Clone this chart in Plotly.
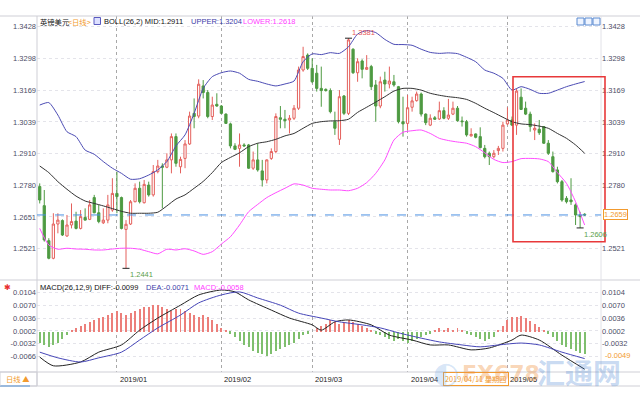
import plotly.graph_objects as go
import pandas as pd

# ---------------- data ----------------
dates = pd.bdate_range("2018-12-07", periods=121).strftime("%Y-%m-%d").tolist()

opens = [1.2775,1.2697,1.2554,1.2482,1.2622,1.2636,1.2573,1.2618,1.2634,1.2604,
1.2649,1.2641,1.2730,1.2668,1.2627,1.2638,1.2679,1.2747,1.2730,1.2600,
1.2622,1.2713,1.2768,1.2709,1.2781,1.2741,1.2836,1.2859,1.2854,1.2884,
1.2979,1.2856,1.2890,1.2949,1.3074,1.3063,1.3186,1.3159,1.3061,1.3111,
1.3104,1.3071,1.3031,1.2941,1.2931,1.2945,1.2945,1.2850,1.2884,1.2839,
1.2802,1.2890,1.2918,1.3056,1.3050,1.3047,1.3054,1.3095,1.3251,1.3312,
1.3258,1.3238,1.3176,1.3172,1.3167,1.3040,1.2968,1.3145,1.3074,1.3336,
1.3240,1.3288,1.3254,1.3265,1.3190,1.3104,1.3210,1.3194,1.3203,1.3183,
1.3040,1.3033,1.3099,1.3126,1.3153,1.3071,1.3026,1.3056,1.3051,1.3085,
1.3054,1.3071,1.3095,1.3043,1.3040,1.2982,1.2990,1.2979,1.2931,1.2911,
1.2897,1.2922,1.2931,1.3031,1.3047,1.3026,1.3140,1.3095,1.3071,1.3006,
1.3009,1.3020,1.2952,1.2897,1.2843,1.2795,1.2727,1.2720,1.2700,1.2659,
1.2662]
highs = [1.2788,1.2761,1.2564,1.2666,1.2666,1.2641,1.2659,1.2706,1.2672,1.2679,
1.2686,1.2720,1.2741,1.2700,1.2686,1.2741,1.2809,1.2836,1.2734,1.2638,
1.2720,1.2788,1.2795,1.2802,1.2795,1.2863,1.2884,1.2870,1.2911,1.2992,
1.2992,1.2897,1.2965,1.3081,1.3135,1.3213,1.3210,1.3169,1.3142,1.3156,
1.3108,1.3074,1.3036,1.2952,1.2992,1.2952,1.2949,1.2918,1.2952,1.2884,
1.2886,1.2931,1.3074,1.3104,1.3088,1.3067,1.3108,1.3265,1.3346,1.3319,
1.3299,1.3272,1.3265,1.3176,1.3176,1.3081,1.3169,1.3149,1.3381,1.3340,
1.3299,1.3295,1.3312,1.3272,1.3210,1.3224,1.3244,1.3265,1.3231,1.3186,
1.3142,1.3149,1.3142,1.3163,1.3159,1.3074,1.3070,1.3063,1.3122,1.3099,
1.3133,1.3122,1.3104,1.3061,1.3047,1.3013,1.2992,1.3017,1.2945,1.2918,
1.2924,1.2941,1.3040,1.3099,1.3061,1.3176,1.3176,1.3122,1.3081,1.3033,
1.3047,1.3022,1.2965,1.2918,1.2856,1.2802,1.2736,1.2809,1.2706,1.2672,
1.2666]
lows = [1.2706,1.2550,1.2478,1.2478,1.2584,1.2573,1.2570,1.2604,1.2600,1.2600,
1.2636,1.2638,1.2666,1.2625,1.2622,1.2625,1.2672,1.2666,1.2600,1.2441,
1.2618,1.2711,1.2706,1.2706,1.2734,1.2734,1.2829,1.2686,1.2850,1.2829,
1.2856,1.2829,1.2850,1.2945,1.3013,1.3054,1.3135,1.3054,1.3047,1.3101,
1.3071,1.3031,1.2931,1.2924,1.2856,1.2938,1.2847,1.2843,1.2836,1.2775,
1.2788,1.2884,1.2911,1.3013,1.3013,1.2992,1.3047,1.3088,1.3244,1.3251,
1.3197,1.3163,1.3101,1.3163,1.3074,1.2986,1.2945,1.3067,1.3067,1.3235,
1.3203,1.3217,1.3251,1.3169,1.3040,1.3095,1.3163,1.3176,1.3183,1.3033,
1.2979,1.3006,1.3081,1.3122,1.3061,1.3026,1.3022,1.3047,1.3047,1.3050,
1.3047,1.3067,1.3040,1.3020,1.2979,1.2979,1.2972,1.2931,1.2890,1.2863,
1.2890,1.2904,1.2918,1.3026,1.3022,1.2986,1.3088,1.3067,1.2999,1.2965,
1.2986,1.2949,1.2904,1.2832,1.2788,1.2713,1.2706,1.2700,1.2618,1.2606,
1.2655]
closes = [1.2720,1.2557,1.2482,1.2622,1.2638,1.2577,1.2618,1.2632,1.2604,1.2652,
1.2638,1.2700,1.2668,1.2632,1.2638,1.2700,1.2747,1.2734,1.2604,1.2621,
1.2713,1.2768,1.2713,1.2784,1.2741,1.2836,1.2859,1.2854,1.2884,1.2979,
1.2870,1.2886,1.2949,1.3063,1.3061,1.3193,1.3159,1.3061,1.3108,1.3104,
1.3074,1.3033,1.2941,1.2927,1.2945,1.2941,1.2850,1.2884,1.2843,1.2802,
1.2884,1.2918,1.3061,1.3050,1.3044,1.3054,1.3095,1.3251,1.3306,1.3258,
1.3203,1.3176,1.3167,1.3167,1.3081,1.3013,1.3142,1.3074,1.3374,1.3240,
1.3285,1.3254,1.3261,1.3183,1.3104,1.3203,1.3194,1.3206,1.3190,1.3040,
1.3031,1.3097,1.3125,1.3153,1.3071,1.3036,1.3054,1.3050,1.3085,1.3054,
1.3067,1.3095,1.3044,1.3040,1.2986,1.2988,1.2976,1.2934,1.2897,1.2897,
1.2911,1.2931,1.3026,1.3047,1.3026,1.3165,1.3090,1.3071,1.3020,1.3013,
1.2995,1.2952,1.2911,1.2836,1.2795,1.2720,1.2713,1.2713,1.2659,1.2652,
1.2659]

# Bollinger (26,2) every second session
band_idx = list(range(0, 121, 2))
boll_upper = [1.3108,1.3118,1.3067,1.2999,1.2979,1.2924,1.2907,1.2877,1.2850,1.2829,
1.2805,1.2807,1.2822,1.2843,1.2877,1.2941,1.2986,1.3074,1.3176,1.3224,
1.3240,1.3247,1.3238,1.3213,1.3205,1.3194,1.3186,1.3194,1.3206,1.3285,
1.3317,1.3314,1.3322,1.3319,1.3346,1.3398,1.3412,1.3404,1.3376,1.3356,
1.3355,1.3352,1.3336,1.3323,1.3319,1.3321,1.3318,1.3303,1.3285,1.3251,
1.3238,1.3217,1.3169,1.3183,1.3172,1.3156,1.3156,1.3169,1.3183,1.3194,
1.3204]
boll_mid = [1.2859,1.2832,1.2795,1.2764,1.2736,1.2716,1.2706,1.2696,1.2685,1.2674,
1.2666,1.2666,1.2666,1.2670,1.2696,1.2724,1.2741,1.2768,1.2796,1.2832,
1.2873,1.2894,1.2913,1.2938,1.2952,1.2958,1.2968,1.2982,1.2992,1.3013,
1.3033,1.3040,1.3043,1.3044,1.3050,1.3078,1.3099,1.3120,1.3142,1.3165,
1.3176,1.3176,1.3169,1.3156,1.3148,1.3142,1.3138,1.3131,1.3115,1.3095,
1.3077,1.3058,1.3040,1.3031,1.3028,1.3022,1.3013,1.2992,1.2972,1.2945,
1.2911]
boll_lower = [1.2604,1.2536,1.2519,1.2523,1.2520,1.2519,1.2516,1.2516,1.2520,1.2523,
1.2523,1.2519,1.2509,1.2500,1.2519,1.2516,1.2521,1.2512,1.2498,1.2509,
1.2540,1.2570,1.2618,1.2672,1.2702,1.2730,1.2750,1.2768,1.2786,1.2781,
1.2768,1.2764,1.2761,1.2761,1.2758,1.2768,1.2791,1.2829,1.2884,1.2965,
1.2997,1.3003,1.3006,1.2992,1.2972,1.2963,1.2957,1.2952,1.2938,1.2913,
1.2886,1.2873,1.2877,1.2889,1.2890,1.2888,1.2877,1.2832,1.2788,1.2713,
1.2618]

# MACD(26,12,9)
diff_idx = [0,3,9,13,18,22,26,31,35,40,43,46,51,55,60,62,65,68,73,77,82,86,90,95,99,104,106,110,115,120]
diff_val = [-0.0067,-0.0090,-0.0080,-0.0054,-0.0035,0.0004,0.0036,0.0070,0.0097,0.0110,
0.0105,0.0084,0.0057,0.0036,0.0018,0.0004,0.0026,0.0031,0.0018,-0.0009,
-0.0022,-0.0035,-0.0035,-0.0048,-0.0043,-0.0022,-0.0009,-0.0022,-0.0062,-0.0099]
dea_idx = [0,4,9,13,18,22,26,31,35,40,44,48,53,57,62,66,71,75,79,84,88,93,97,101,106,110,115,120]
dea_val = [-0.0054,-0.0069,-0.0080,-0.0069,-0.0054,-0.0022,0.0010,0.0044,0.0076,0.0097,
0.0105,0.0089,0.0070,0.0049,0.0036,0.0026,0.0018,0.0010,-0.0003,-0.0017,
-0.0027,-0.0035,-0.0040,-0.0035,-0.0030,-0.0035,-0.0054,-0.0071]
macd_hist = [-0.0030,-0.0035,-0.0040,-0.0035,-0.0030,-0.0020,-0.0010,
0.0005,0.0010,0.0015,0.0020,0.0025,0.0030,0.0035,0.0040,0.0045,0.0050,
0.0055,0.0050,0.0045,0.0050,0.0055,0.0060,0.0065,0.0065,0.0070,0.0070,0.0065,0.0060,0.0055,0.0060,0.0060,0.0055,0.0050,
0.0045,0.0040,0.0045,0.0040,0.0030,0.0020,0.0010,0.0005,-0.0005,-0.0015,-0.0025,-0.0035,
-0.0040,-0.0050,-0.0055,-0.0060,-0.0065,-0.0060,-0.0050,-0.0045,-0.0040,-0.0035,-0.0030,-0.0020,-0.0010,-0.0005,0.0000,
0.0010,0.0015,0.0020,0.0030,0.0025,0.0020,0.0025,0.0030,0.0025,0.0020,0.0015,0.0010,0.0005,-0.0005,-0.0010,
-0.0015,-0.0020,-0.0025,-0.0020,-0.0025,-0.0030,-0.0025,-0.0020,-0.0015,-0.0010,-0.0005,0.0005,0.0010,0.0005,0.0010,
0.0005,0.0010,0.0005,-0.0005,-0.0010,-0.0015,-0.0020,-0.0025,-0.0020,-0.0015,
0.0005,0.0015,0.0030,0.0038,0.0040,0.0042,0.0035,
0.0028,0.0020,0.0012,0.0005,-0.0005,-0.0015,-0.0025,-0.0035,-0.0040,-0.0045,-0.0050,-0.0055,-0.0058]

price_ticks = ["1.3428","1.3298","1.3169","1.3039","1.2910","1.2780","1.2651","1.2521"]
price_ticks_right = ["1.3428","1.3298","1.3169","1.3039","1.2910","1.2780","1.2521"]
macd_ticks = ["0.0104","0.0070","0.0036","0.0002","-0.0032","-0.0066"]
macd_ticks_right = ["0.0104","0.0070","0.0036","0.0002","-0.0032"]
month_ticks = ["2019-01-01","2019-02-01","2019-03-01","2019-04-01","2019-05-01"]
month_labels = ["2019/01","2019/02","2019/03","2019/04","2019/05"]
crosshair_date_label = "2019/04/11 星期四"
crosshair_macd_label = "-0.0049"

# ---------------- layout helpers (pixel -> paper) ----------------
W, H = 640, 400
PL, PR, PT, PB = 37, 601, 16, 372
def px(x): return (x - PL) / (PR - PL)
def py(y): return (PB - y) / (PB - PT)

FONT = "Liberation Sans, Arial, sans-serif"
CJK = "Noto Sans CJK SC, sans-serif"
TICKC = "#4d4d66"
UP_C, DN_C = "#e4605c", "#4e9a42"
UPPER_C, MID_C, LOWER_C = "#4b4bb4", "#333333", "#ff4cff"

fig = go.Figure()
fig.add_trace(go.Candlestick(
    x=dates, open=opens, high=highs, low=lows, close=closes,
    increasing=dict(line=dict(color=UP_C, width=1), fillcolor="#ffffff"),
    decreasing=dict(line=dict(color=DN_C, width=1), fillcolor=DN_C),
    whiskerwidth=0, xaxis="x", yaxis="y", showlegend=False, hoverinfo="skip"))
bx = [dates[i] for i in band_idx]
for vals, col in [(boll_upper, UPPER_C), (boll_mid, MID_C), (boll_lower, LOWER_C)]:
    fig.add_trace(go.Scatter(x=bx, y=vals, mode="lines", line=dict(color=col, width=1, shape="spline", smoothing=0.6),
                             xaxis="x", yaxis="y", showlegend=False, hoverinfo="skip"))
# extreme markers
i_hi = highs.index(max(highs)); i_lo = lows.index(min(lows))
i_lo2 = len(lows) - 5 + lows[-5:].index(min(lows[-5:]))
fig.add_trace(go.Scatter(x=[dates[i_hi], dates[i_lo], dates[i_lo2]], y=[highs[i_hi], lows[i_lo], lows[i_lo2]],
                         mode="markers", marker=dict(symbol="line-ew", size=5, line=dict(color="#222", width=1)),
                         xaxis="x", yaxis="y", showlegend=False, hoverinfo="skip"))
fig.add_trace(go.Scatter(x=[dates[0]], y=[float(price_ticks[0])], mode="markers", marker=dict(opacity=0),
                         xaxis="x", yaxis="y3", showlegend=False, hoverinfo="skip"))

# MACD panel
fig.add_trace(go.Bar(x=dates, y=macd_hist, width=0.22,
                     marker=dict(color=["#ec7f7a" if v >= 0 else "#7fbf6e" for v in macd_hist], line=dict(width=0)),
                     xaxis="x2", yaxis="y2", showlegend=False, hoverinfo="skip"))
fig.add_trace(go.Scatter(x=[dates[i] for i in diff_idx], y=diff_val, mode="lines",
                         line=dict(color="#222222", width=1, shape="spline", smoothing=0.7),
                         xaxis="x2", yaxis="y2", showlegend=False, hoverinfo="skip"))
fig.add_trace(go.Scatter(x=[dates[i] for i in dea_idx], y=dea_val, mode="lines",
                         line=dict(color="#4646b8", width=1, shape="spline", smoothing=0.7),
                         xaxis="x2", yaxis="y2", showlegend=False, hoverinfo="skip"))
fig.add_trace(go.Scatter(x=[dates[0]], y=[float(macd_ticks[0])], mode="markers", marker=dict(opacity=0),
                         xaxis="x2", yaxis="y4", showlegend=False, hoverinfo="skip"))

xr = [-0.6, 123.6]
xcommon = dict(type="category", categoryorder="array", categoryarray=dates, range=xr,
               showticklabels=False, ticks="", tickvals=month_ticks, showgrid=True,
               gridcolor="#a8a8a8", griddash="dot", gridwidth=1, zeroline=False, showline=False,
               rangeslider=dict(visible=False), fixedrange=True)
price_range = [1.23974, 1.34717]
macd_range = [-0.01064, 0.01338]
ycommon = dict(showgrid=True, gridcolor="#e4e4ea", griddash="dot", zeroline=False, showline=False,
               ticks="", tickfont=dict(family=FONT, size=7.5, color=TICKC), fixedrange=True)

fig.update_layout(
    width=W, height=H, margin=dict(l=PL, r=W - PR, t=PT, b=H - PB),
    paper_bgcolor="white", plot_bgcolor="white", showlegend=False, bargap=0,
    xaxis=dict(domain=[0, 1], anchor="y", **xcommon),
    xaxis2=dict(domain=[0, 1], anchor="y2", **xcommon),
    yaxis=dict(domain=[py(279), 1], anchor="x", range=price_range, side="left",
               tickvals=[float(t) for t in price_ticks], ticktext=price_ticks, **ycommon),
    yaxis3=dict(overlaying="y", anchor="x", side="right", range=price_range,
                tickvals=[float(t) for t in price_ticks_right], ticktext=price_ticks_right,
                **{**ycommon, "showgrid": False}),
    yaxis2=dict(domain=[0, py(281)], anchor="x2", range=macd_range, side="left",
                tickvals=[float(t) for t in macd_ticks], ticktext=macd_ticks, **ycommon),
    yaxis4=dict(overlaying="y2", anchor="x2", side="right", range=macd_range,
                tickvals=[float(t) for t in macd_ticks_right], ticktext=macd_ticks_right,
                **{**ycommon, "showgrid": False}),
)

shapes = []
def line(x0, y0, x1, y1, color="#cfcfd6", width=1, dash=None):
    shapes.append(dict(type="line", xref="paper", yref="paper", x0=px(x0), y0=py(y0), x1=px(x1), y1=py(y1),
                       line=dict(color=color, width=width, dash=dash), layer="above"))
line(0, 16, 640, 16)
line(0, 280, 640, 280)
line(0, 372, 640, 372)
line(0, 386, 640, 386)
line(PL, 16, PL, 386)
line(PR, 16, PR, 372, color="#e2e2e8")
line(0, 386, 30, 386, color="#3d8ee0", width=1.5)
# last price dashed line
shapes.append(dict(type="line", xref="paper", yref="y", x0=0, x1=1, y0=closes[-1], y1=closes[-1],
                   line=dict(color="#4a90e2", width=1, dash="dash"), layer="above"))
# highlight box
shapes.append(dict(type="rect", xref="paper", yref="paper", x0=px(513), x1=px(605), y0=py(241.7), y1=py(76.7),
                   line=dict(color="#e8393a", width=1.6), fillcolor="rgba(0,0,0,0)", layer="above"))
# icons
shapes.append(dict(type="rect", xref="paper", yref="paper", x0=px(94), x1=px(100.5), y0=py(24.5), y1=py(17.5),
                   line=dict(color="#5a5ac0", width=1), fillcolor="#dde0ff"))
for x0 in (577, 585, 593):
    shapes.append(dict(type="rect", xref="paper", yref="paper", x0=px(x0), x1=px(x0 + 7), y0=py(25), y1=py(18),
                       line=dict(color="#5a8ad0", width=1), fillcolor="#eef4ff"))
# bottom-left box
shapes.append(dict(type="rect", xref="paper", yref="paper", x0=px(0), x1=px(37), y0=py(386), y1=py(372),
                   line=dict(color="#cfcfd6", width=1), fillcolor="rgba(0,0,0,0)"))
fig.update_layout(shapes=shapes)

ann = []
def text(x, y, s, color="#111", size=7.5, family=FONT, xanchor="left", **kw):
    ann.append(dict(xref="paper", yref="paper", x=px(x), y=py(y), text=s, showarrow=False,
                    xanchor=xanchor, yanchor="middle", font=dict(family=family, size=size, color=color), **kw))
text(37.5, 21.5, "英镑美元", "#111", 7.3, CJK)
text(66, 21.5, "&lt;日线&gt;", "#f29a2e", 7.3, CJK)
text(101.5, 21.5, f"BOLL(26,2) MID:{boll_mid[-1]:.4f}", "#111")
text(189, 21.5, f"UPPER:{boll_upper[-1]:.4f}", "#3c3ca8")
text(241, 21.5, f"LOWER:{boll_lower[-1]:.4f}", "#ff40ff")
macd_last = macd_hist[-1]
text(37.5, 287, f"MACD(26,12,9) DIFF:{diff_val[-1]:.4f}", "#111")
text(144, 287, f"DEA:{dea_val[-1]:.4f}", "#3c3ca8")
text(192, 287, f"MACD:{macd_last:.4f}", "#ff40ff")
text(2, 287, "✱", "#e83030", 8)
for d, lab in zip(month_ticks, month_labels):
    ann.append(dict(xref="x", yref="paper", x=d, y=py(379), text=lab, showarrow=False, xanchor="left",
                    yanchor="middle", xshift=1, font=dict(family=FONT, size=7.5, color="#222")))
text(4, 379, "日线 ▲", "#f29a2e", 7.3, CJK)
# extreme labels
ann.append(dict(xref="x", yref="y", x=dates[i_hi], y=highs[i_hi], text=f"{highs[i_hi]:.4f}", showarrow=False,
                xanchor="left", yanchor="bottom", xshift=1, yshift=-1, font=dict(family=FONT, size=7.5, color="#e85a5a")))
ann.append(dict(xref="x", yref="y", x=dates[i_lo], y=lows[i_lo], text=f"{lows[i_lo]:.4f}", showarrow=False,
                xanchor="left", yanchor="top", xshift=2, yshift=0, font=dict(family=FONT, size=7.5, color="#5aa04a")))
ann.append(dict(xref="x", yref="y", x=dates[i_lo2], y=lows[i_lo2], text=f"{lows[i_lo2]:.4f}", showarrow=False,
                xanchor="left", yanchor="top", xshift=2, yshift=0, font=dict(family=FONT, size=7.5, color="#5aa04a")))
# crosshair labels
ann.append(dict(xref="paper", yref="y", x=px(603), y=closes[-1], text=f"{closes[-1]:.4f}", showarrow=False,
                xanchor="left", yanchor="middle", bgcolor="white", bordercolor="#f29a2e", borderwidth=1, borderpad=0,
                font=dict(family=FONT, size=7.5, color="#f29a2e")))
text(603, 355, crosshair_macd_label, "#f29a2e", 7.5, bgcolor="white")
text(443, 379, crosshair_date_label, "#f29a2e", 7.3, CJK, bgcolor="white", bordercolor="#f29a2e", borderwidth=1, borderpad=1)
# watermark
ann.append(dict(xref="paper", yref="paper", x=px(460), y=py(374), text="<b>FX678</b>", showarrow=False,
                xanchor="left", yanchor="middle", font=dict(family="DejaVu Sans, sans-serif", size=22, color="rgba(240,150,70,0.40)")))
ann.append(dict(xref="paper", yref="paper", x=px(535), y=py(372), text="<b>汇通网</b>", showarrow=False,
                xanchor="left", yanchor="middle", font=dict(family=CJK, size=28, color="rgba(70,130,210,0.30)")))
ann.append(dict(xref="paper", yref="paper", x=px(446), y=py(372), text="◐", showarrow=False,
                xanchor="center", yanchor="middle", font=dict(family="DejaVu Sans, sans-serif", size=30, color="rgba(120,170,230,0.30)")))
fig.update_layout(annotations=ann)

fig.write_html("out.html")
